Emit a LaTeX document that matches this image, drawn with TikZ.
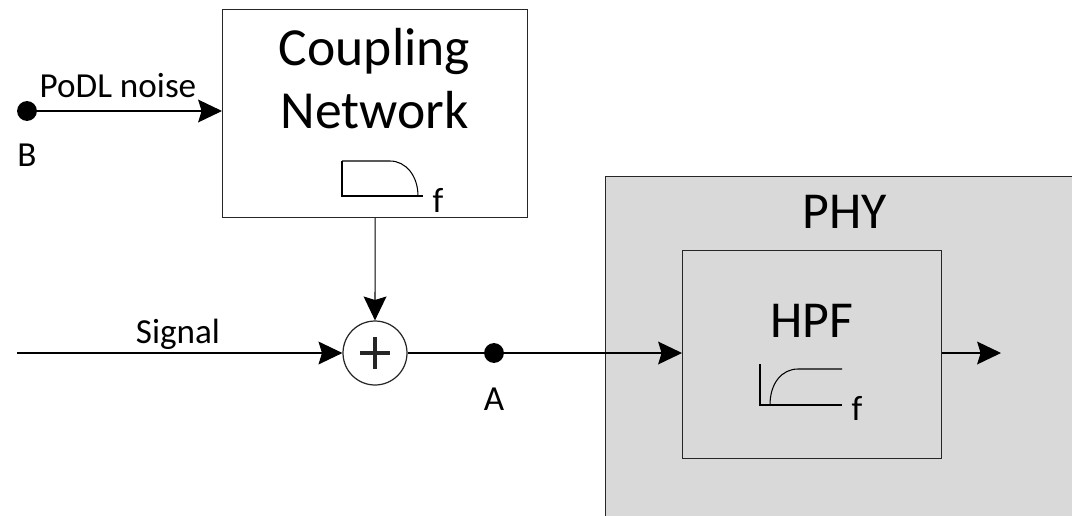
\documentclass[tikz,border=0pt]{standalone}
\usepackage{fontspec}
\setmainfont{Carlito}
\usetikzlibrary{arrows.meta, positioning}
\definecolor{phygray}{RGB}{217,217,217}
\tikzset{block/.style={draw=black!85, rectangle, inner sep=0pt, line width=0.7pt},
  bullet/.style={circle, fill, inner sep=0pt, minimum size=11.3pt},
  bigtxt/.style={font=\fontsize{29.5}{35.7}\selectfont, inner sep=0pt, align=center},
  smalltxt/.style={font=\fontsize{20}{24}\selectfont, inner sep=0pt},
  sig/.style={-{Stealth[length=13.6pt, width=13pt, inset=2pt]}, line width=0.6pt}}

\begin{document}
\begin{tikzpicture}[x=0.02cm, y=-0.02cm]
    \clip (0,0) rectangle (1072,515);
    % blocks
    \node[block, fill=phygray, anchor=north west, minimum width=9.6cm, minimum height=7cm] (phy) at (605,176) {};
    \node[block, anchor=north west, minimum width=6.1cm, minimum height=4.16cm] (cn) at (222,9) {};
    \node[block, fill=phygray, anchor=north west, minimum width=5.18cm, minimum height=4.16cm] (hpf) at (682,250) {};
    \node[block, circle, minimum size=1.28cm, path picture={
        \draw[line width=2.8pt] ([xshift=-8.5pt]path picture bounding box.center) -- ([xshift=8.5pt]path picture bounding box.center);
        \draw[line width=2.8pt] ([yshift=-9pt]path picture bounding box.center) -- ([yshift=9pt]path picture bounding box.center);
      }] (sum) at (375,353) {};
    \node[bigtxt, font=\fontsize{30.5}{35.7}\selectfont, anchor=base] (cntext) at (374.5,128) {Coupling\\Network};
    \node[bigtxt, anchor=base] (phytext) at (845,228) {PHY};
    \node[bigtxt, anchor=base] (hpftext) at (812,337) {HPF};
  
    % filter shapes
    \draw[line width=0.6pt] (342,161) -- (342,196) -- (423,196);
    \draw[line width=0.6pt] (342,161) -- (390,161) .. controls (406,161) and (418,176) .. (418,196);
    \node[smalltxt, anchor=base] (lpff) at (438,212) {f};
    \draw[line width=0.6pt] (760,364) -- (760,405) -- (842,405);
    \draw[line width=0.6pt] (770,405) .. controls (770,383) and (782,369) .. (798,369) -- (842,369);
    \node[smalltxt, anchor=base] (hpff) at (857,420) {f};
  
    % connectors
    \node[bullet] (B) at (27,111) {};
    \coordinate (sigin) at (17,353);
    \coordinate (out) at (1001,353);
    \draw[sig] (B) -- (B -| cn.west);
    \draw[sig] (cn.south) -- (sum.north);
    \draw[sig] (sigin) -- (sum.west);
    \draw[sig] (sum.east) -- (sum.east -| hpf.west);
    \draw[sig] (sum.east -| hpf.east) -- (out);
    \node[bullet] (A) at (494,353) {};
  
    % labels
    \node[smalltxt, anchor=base] (podl) at (118,97) {PoDL noise};
    \node[smalltxt, anchor=base] (blabel) at (27,166) {B};
    \node[smalltxt, anchor=base] (siglabel) at (178,343) {Signal};
    \node[smalltxt, anchor=base] (alabel) at (494,410) {A};
\end{tikzpicture}
\end{document}
